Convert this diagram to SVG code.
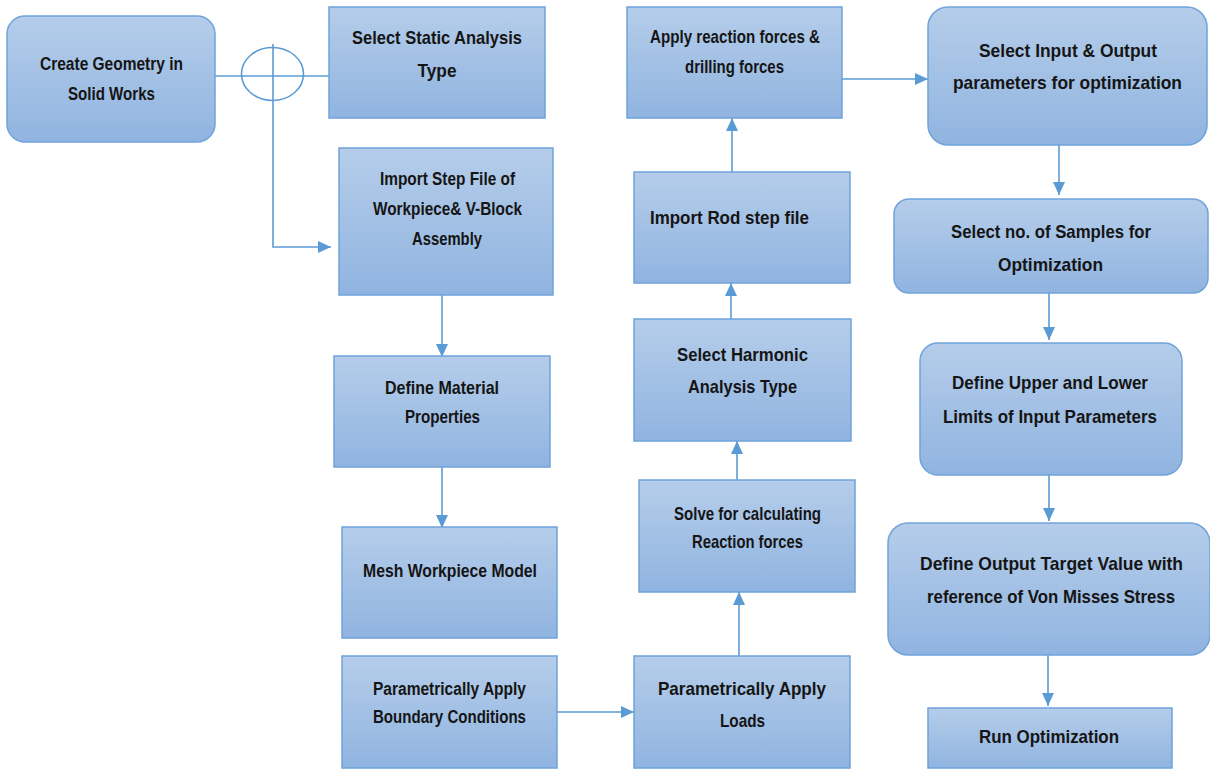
<svg xmlns="http://www.w3.org/2000/svg" width="1210" height="772" viewBox="0 0 1210 772">
<style>
.box{fill:url(#g);stroke:#6fa3da;stroke-width:1.5}
.t{font-family:"Liberation Sans",Arial,sans-serif;font-weight:bold;font-size:19px;fill:#151515;text-anchor:middle}
.s{font-size:18px}
.c{fill:none;stroke:#5b9bd5;stroke-width:1.6}
.a{marker-end:url(#ah)}
</style>
<defs>
<linearGradient id="g" x1="0" y1="0" x2="0" y2="1">
<stop offset="0" stop-color="#b5cdea"/>
<stop offset="1" stop-color="#90b4e0"/>
</linearGradient>
<marker id="ah" markerUnits="userSpaceOnUse" markerWidth="13" markerHeight="12" refX="13" refY="6" orient="auto">
<path d="M0,0 L13,6 L0,12 z" fill="#5b9bd5"/>
</marker>
</defs>
<rect width="1210" height="772" fill="#ffffff"/>

<g id="connectors">
<line class="c" x1="215" y1="76" x2="331" y2="76"/>
<ellipse class="c" cx="272.5" cy="74" rx="31" ry="26.5"/>
<path class="c a" d="M273,44 V247 H331"/>
<line class="c a" x1="442" y1="295" x2="442" y2="357"/>
<line class="c a" x1="442" y1="467" x2="442" y2="528"/>
<line class="c a" x1="557" y1="712" x2="634" y2="712"/>
<line class="c a" x1="739" y1="656" x2="739" y2="592"/>
<line class="c a" x1="737" y1="480" x2="737" y2="441"/>
<line class="c a" x1="731" y1="319" x2="731" y2="283"/>
<line class="c a" x1="732" y1="172" x2="732" y2="118"/>
<line class="c a" x1="842" y1="79" x2="928" y2="79"/>
<line class="c a" x1="1059" y1="145" x2="1059" y2="195"/>
<line class="c a" x1="1049" y1="293" x2="1049" y2="340"/>
<line class="c a" x1="1049" y1="475" x2="1049" y2="521"/>
<line class="c a" x1="1048" y1="655" x2="1048" y2="706"/>
</g>

<g id="n1"><rect class="box" x="7" y="16" width="208" height="126" rx="18"/>
<text class="t" x="111.5" y="70" textLength="143" lengthAdjust="spacingAndGlyphs">Create Geometry in</text><text class="t" x="111.5" y="100" textLength="87" lengthAdjust="spacingAndGlyphs">Solid Works</text></g>

<g id="n2"><rect class="box" x="329" y="7" width="216" height="111"/>
<text class="t" x="437" y="44" textLength="170" lengthAdjust="spacingAndGlyphs">Select Static Analysis</text><text class="t" x="437" y="77" textLength="39" lengthAdjust="spacingAndGlyphs">Type</text></g>

<g id="n3"><rect class="box" x="339" y="148" width="214" height="147"/>
<text class="t" x="447.5" y="185" textLength="135" lengthAdjust="spacingAndGlyphs">Import Step File of</text><text class="t" x="447.5" y="215" textLength="149" lengthAdjust="spacingAndGlyphs">Workpiece&amp; V-Block</text><text class="t" x="447" y="245" textLength="70" lengthAdjust="spacingAndGlyphs">Assembly</text></g>

<g id="n4"><rect class="box" x="334" y="356" width="216" height="111"/>
<text class="t" x="442" y="394" textLength="114" lengthAdjust="spacingAndGlyphs">Define Material</text><text class="t" x="442.5" y="423" textLength="75" lengthAdjust="spacingAndGlyphs">Properties</text></g>

<g id="n5"><rect class="box" x="342" y="527" width="215" height="111"/>
<text class="t" x="450" y="577" textLength="174" lengthAdjust="spacingAndGlyphs">Mesh Workpiece Model</text></g>

<g id="n6"><rect class="box" x="342" y="656" width="215" height="112"/>
<text class="t s" x="449.5" y="695" textLength="153" lengthAdjust="spacingAndGlyphs">Parametrically Apply</text><text class="t s" x="449.5" y="723" textLength="153" lengthAdjust="spacingAndGlyphs">Boundary Conditions</text></g>

<g id="n7"><rect class="box" x="634" y="656" width="216" height="112"/>
<text class="t" x="742" y="695" textLength="168" lengthAdjust="spacingAndGlyphs">Parametrically Apply</text><text class="t" x="742.5" y="727" textLength="45" lengthAdjust="spacingAndGlyphs">Loads</text></g>

<g id="n8"><rect class="box" x="639" y="480" width="216" height="112"/>
<text class="t" x="747.5" y="520" textLength="147" lengthAdjust="spacingAndGlyphs">Solve for calculating</text><text class="t" x="747.5" y="548" textLength="111" lengthAdjust="spacingAndGlyphs">Reaction forces</text></g>

<g id="n9"><rect class="box" x="634" y="319" width="217" height="122"/>
<text class="t" x="742.5" y="361" textLength="131" lengthAdjust="spacingAndGlyphs">Select Harmonic</text><text class="t" x="742.5" y="393" textLength="109" lengthAdjust="spacingAndGlyphs">Analysis Type</text></g>

<g id="n10"><rect class="box" x="634" y="172" width="216" height="111"/>
<text class="t" x="729.5" y="224" textLength="159" lengthAdjust="spacingAndGlyphs">Import Rod step file</text></g>

<g id="n11"><rect class="box" x="627" y="7" width="215" height="111"/>
<text class="t" x="735" y="43" textLength="170" lengthAdjust="spacingAndGlyphs">Apply reaction forces &amp;</text><text class="t" x="734.5" y="73" textLength="99" lengthAdjust="spacingAndGlyphs">drilling forces</text></g>

<g id="n12"><rect class="box" x="928" y="7" width="279" height="138" rx="20"/>
<text class="t" x="1068" y="57" textLength="178" lengthAdjust="spacingAndGlyphs">Select Input &amp; Output</text><text class="t" x="1067.5" y="89" textLength="229" lengthAdjust="spacingAndGlyphs">parameters for optimization</text></g>

<g id="n13"><rect class="box" x="894" y="199" width="314" height="94" rx="15"/>
<text class="t" x="1051" y="238" textLength="200" lengthAdjust="spacingAndGlyphs">Select no. of Samples for</text><text class="t" x="1050.5" y="271" textLength="105" lengthAdjust="spacingAndGlyphs">Optimization</text></g>

<g id="n14"><rect class="box" x="920" y="343" width="262" height="132" rx="18"/>
<text class="t" x="1050" y="389" textLength="196" lengthAdjust="spacingAndGlyphs">Define Upper and Lower</text><text class="t" x="1050" y="423" textLength="214" lengthAdjust="spacingAndGlyphs">Limits of Input Parameters</text></g>

<g id="n15"><rect class="box" x="888" y="523" width="322" height="132" rx="20"/>
<text class="t" x="1051.5" y="570" textLength="263" lengthAdjust="spacingAndGlyphs">Define Output Target Value with</text><text class="t" x="1051" y="603" textLength="248" lengthAdjust="spacingAndGlyphs">reference of Von Misses Stress</text></g>

<g id="n16"><rect class="box" x="928" y="708" width="244" height="60"/>
<text class="t" x="1049" y="743" textLength="140" lengthAdjust="spacingAndGlyphs">Run Optimization</text></g>
</svg>
